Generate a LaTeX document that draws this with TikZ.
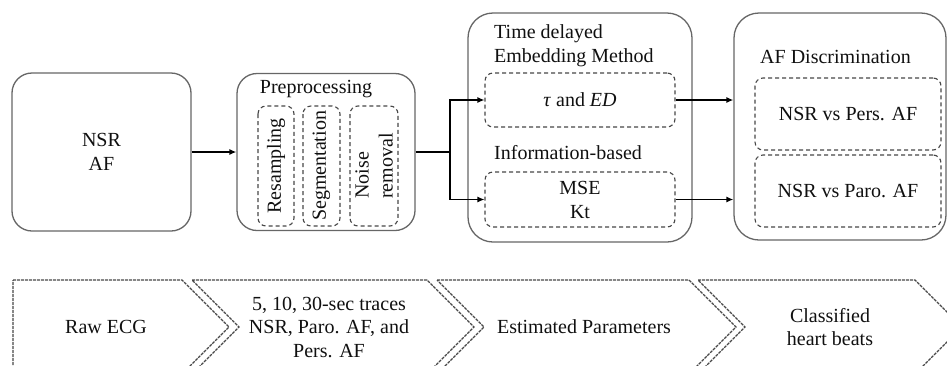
\documentclass[tikz,border=0pt]{standalone}
\usepackage{fontspec}
\setmainfont{Liberation Serif}
\usepackage{xcolor}
\usepackage{tikz}
\usetikzlibrary{arrows.meta,positioning,calc}
\definecolor{EcgFrame}{HTML}{666666}
\definecolor{EcgDash}{HTML}{474747}
\definecolor{EcgInk}{HTML}{101010}
\tikzset{
  txt/.style={text=EcgInk,font=\fontsize{20}{24}\selectfont},
  stage/.style={txt,draw=EcgFrame,line width=1.3pt,rounded corners=20pt,fill=white,
    align=center,inner sep=0pt},
  subbox/.style={txt,draw=EcgDash,line width=1.1pt,dash pattern=on 4pt off 3pt,
    rounded corners=8pt,align=center,inner sep=0pt},
  heading/.style={txt,inner sep=0pt,align=left},
  chev/.style={draw=EcgDash,line width=1.1pt,dash pattern=on 3pt off 1pt},
  flow/.style={-{Latex[length=7pt,width=6pt]},line width=1.3pt,draw=black},
  link/.style={line width=1.3pt,draw=black}
}
\begin{document}
\begin{tikzpicture}[x=1pt,y=-1pt]
  \useasboundingbox (0,0) rectangle (947,365);
  \clip (0,0) rectangle (947,365);
  % top row
  \node[stage,minimum width=179pt,minimum height=158pt] (nsr) at (101.5,152) {NSR\\AF};
  \node[stage,minimum width=178pt,minimum height=157pt] (prep) at (326,152) {};
  \node[heading] (preptitle) at (316,89) {Preprocessing};
  \node[subbox,rotate=90,minimum width=120pt,minimum height=36pt] (resamp) at (276,166) {Resampling};
  \node[subbox,rotate=90,minimum width=120pt,minimum height=37pt] (segm) at (321.5,166) {Segmentation};
  \node[subbox,rotate=90,minimum width=120pt,minimum height=48pt,align=left] (noise) at (374,166) {Noise\\removal};
  \node[stage,rounded corners=25pt,minimum width=224pt,minimum height=229pt] (embed) at (580,127.5) {};
  \node[heading,anchor=west] (embedtitle) at (494,46) {Time delayed\\Embedding Method};
  \node[subbox,minimum width=190pt,minimum height=54pt] (ted) at (580,100) {\textit{τ} and \textit{ED}};
  \node[heading,anchor=west] (infotitle) at (494,153) {Information-based};
  \node[subbox,minimum width=190pt,minimum height=55pt] (info) at (580,199.5) {MSE\\Kt};
  \node[stage,rounded corners=25pt,minimum width=212pt,minimum height=227pt] (disc) at (840,126.5) {};
  \node[heading,anchor=west] (disctitle) at (760,57) {AF Discrimination};
  \node[subbox,minimum width=186pt,minimum height=72pt] (pers) at (848,114) {NSR vs Pers. AF};
  \node[subbox,minimum width=186pt,minimum height=72pt] (paro) at (848,191) {NSR vs Paro. AF};
  \coordinate (split) at (450,152);
  \draw[flow] (nsr) -- (prep);
  \draw[link] (prep.east) -- (split);
  \draw[flow] (split) |- (ted.west);
  \draw[flow] (split) |- (info.west);
  \draw[flow] (ted.east) -- (ted.east -| disc.west);
  \draw[flow] (info.east) -- (info.east -| disc.west);
  % bottom row
  \draw[chev] (13,280) -- (182,280) -- (229,327) -- (182,374) -- (13,374) -- cycle;
  \draw[chev] (192,280) -- (427,280) -- (474,327) -- (427,374) -- (192,374) -- (239,327) -- cycle;
  \draw[chev] (437,280) -- (689,280) -- (736,327) -- (689,374) -- (437,374) -- (484,327) -- cycle;
  \draw[chev] (698,280) -- (915,280) -- (962,327) -- (915,374) -- (698,374) -- (745,327) -- cycle;
  \node[txt] (raw) at (106,327) {Raw ECG};
  \node[txt,align=center,font=\fontsize{20}{23.5}\selectfont] (traces) at (329,327) {5, 10, 30-sec traces\\NSR, Paro. AF, and\\Pers. AF};
  \node[txt] (params) at (584,327) {Estimated Parameters};
  \node[txt,align=center,font=\fontsize{20}{23}\selectfont] (beats) at (830,327) {Classified\\heart beats};
\end{tikzpicture}
\end{document}
